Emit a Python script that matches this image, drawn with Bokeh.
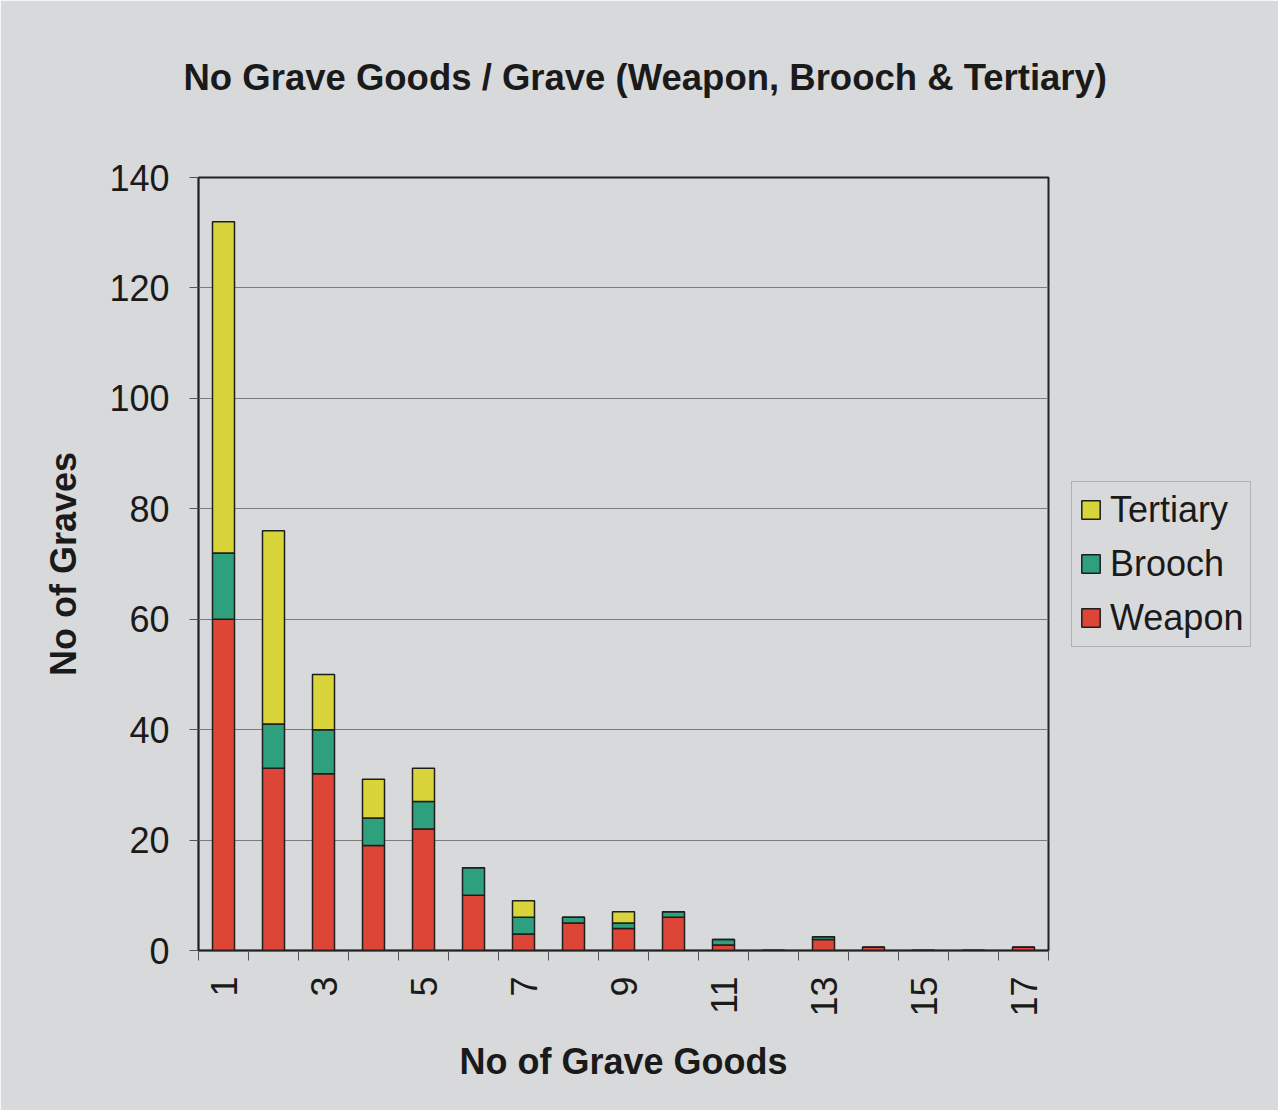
import math
from bokeh.plotting import figure
from bokeh.models import Range1d, FixedTicker, Legend, LegendItem, ColumnDataSource
from bokeh.embed import file_html
from bokeh.resources import INLINE

# ---- data ----
goods = list(range(1, 18))
tick_labels = [1, 3, 5, 7, 9, 11, 13, 15, 17]
weapon = [60, 33, 32, 19, 22, 10, 3, 5, 4, 6, 1, 0, 2, 0.6, 0, 0, 0.6]
brooch = [12, 8, 8, 5, 5, 5, 3, 1, 1, 1, 1, 0, 0.5, 0, 0, 0, 0]
tertiary = [60, 35, 10, 7, 6, 0, 3, 0, 2, 0, 0, 0, 0, 0, 0, 0, 0]
series = ["Weapon", "Brooch", "Tertiary"]
colors = ["#dd4636", "#2fa07e", "#d8d43a"]

src = ColumnDataSource(dict(x=goods, Weapon=weapon, Brooch=brooch, Tertiary=tertiary))

BG = "#d8d9db"
FONT = "Liberation Sans"

p = figure(frame_width=850, frame_height=773, output_backend="svg", toolbar_location=None,
           x_range=Range1d(0.5, 17.5), y_range=Range1d(0, 140),
           background_fill_color=BG, border_fill_color=BG,
           min_border_left=198, min_border_right=0, min_border_top=177,
           min_border_bottom=160)

renderers = p.vbar_stack(series, x="x", width=0.44, source=src, color=colors,
                         line_color="#1e1e1e", line_width=1.5)

# title
p.title.text = "No Grave Goods / Grave (Weapon, Brooch & Tertiary)\n "
p.title.text_font = FONT
p.title.text_font_size = "36.5px"
p.title.text_font_style = "bold"
p.title.text_color = "#1a1a1a"
p.title.align = "left"
p.title.offset = -15
p.title.standoff = 78

# frame
p.outline_line_color = "#222222"
p.outline_line_width = 2
p.outline_line_alpha = 1

# grid
p.xgrid.grid_line_color = None
p.ygrid.grid_line_color = "#7c7c7c"
p.ygrid.grid_line_width = 1.2

# y axis
p.yaxis.ticker = FixedTicker(ticks=[0, 20, 40, 60, 80, 100, 120, 140])
p.yaxis.axis_label = "No of Graves"
p.yaxis.axis_label_text_font = FONT
p.yaxis.axis_label_text_font_size = "36px"
p.yaxis.axis_label_text_font_style = "bold"
p.yaxis.axis_label_text_color = "#1a1a1a"
p.yaxis.axis_label_standoff = 22
p.yaxis.major_label_text_font = FONT
p.yaxis.major_label_text_font_size = "36px"
p.yaxis.major_label_text_color = "#1a1a1a"
p.yaxis.major_label_standoff = 20
p.yaxis.major_tick_out = 9
p.yaxis.major_tick_in = 0
p.yaxis.minor_tick_line_color = None
p.yaxis.axis_line_color = "#222222"
p.yaxis.axis_line_width = 1.5
p.yaxis.major_tick_line_color = "#555555"

# x axis
p.xaxis.ticker = FixedTicker(ticks=tick_labels,
                             minor_ticks=[g - 0.5 for g in goods] + [17.5])
p.xaxis.axis_label = "No of Grave Goods"
p.xaxis.axis_label_text_font = FONT
p.xaxis.axis_label_text_font_size = "36px"
p.xaxis.axis_label_text_font_style = "bold"
p.xaxis.axis_label_text_color = "#1a1a1a"
p.xaxis.axis_label_standoff = 21
p.xaxis.major_label_text_font = FONT
p.xaxis.major_label_text_font_size = "36px"
p.xaxis.major_label_text_color = "#1a1a1a"
p.xaxis.major_label_orientation = math.pi / 2
p.xaxis.major_label_standoff = 16
p.xaxis.major_tick_out = 0
p.xaxis.major_tick_in = 0
p.xaxis.minor_tick_out = 10
p.xaxis.minor_tick_in = 0
p.xaxis.minor_tick_line_color = "#555555"
p.xaxis.axis_line_color = "#222222"
p.xaxis.axis_line_width = 1.5

# legend (Tertiary on top), outside to the right of the frame
items = [LegendItem(label=s, renderers=[r]) for s, r in zip(series, renderers)][::-1]
legend = Legend(items=items, location="center_left", orientation="vertical")
legend.label_text_font = FONT
legend.label_text_font_size = "36px"
legend.label_text_color = "#1a1a1a"
legend.glyph_width = 23
legend.glyph_height = 23
legend.label_standoff = 8
legend.spacing = 12
legend.padding = 7
legend.margin = 23
legend.border_line_color = "#8a8a8a"
legend.border_line_width = 1.5
legend.background_fill_color = BG
legend.background_fill_alpha = 1
p.add_layout(legend, "right")

open("out.html", "w").write(file_html(p, INLINE))
